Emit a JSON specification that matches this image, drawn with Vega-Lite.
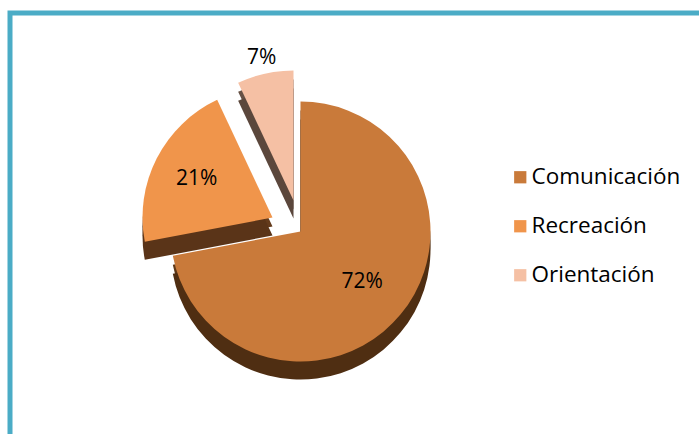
{
  "$schema": "https://vega.github.io/schema/vega-lite/v6.json",
  "width": 697,
  "height": 429,
  "autosize": {"type": "none"},
  "padding": {"left": 10, "top": 13, "right": -8, "bottom": -8},
  "background": "white",
  "view": {"stroke": "#4BACC6", "strokeWidth": 5, "fill": "white"},
  "config": {
    "view": {"stroke": "#4BACC6", "strokeWidth": 5},
    "font": "Open Sans"
  },
  "data": {
    "values": [
      {"cat": "Comunicación", "pct": 72, "label": "72%", "orden": 1},
      {"cat": "Recreación", "pct": 21, "label": "21%", "orden": 2},
      {"cat": "Orientación", "pct": 7, "label": "7%", "orden": 3}
    ]
  },
  "encoding": {
    "theta": {"field": "pct", "type": "quantitative", "stack": true},
    "order": {"field": "orden", "type": "quantitative"}
  },
  "layer": [
    {
      "mark": {"type": "arc", "radius": 130, "xOffset": -58, "yOffset": 13, "fill": "#5e3817"},
      "encoding": {"opacity": {"condition": {"test": "datum.cat === 'Comunicación'", "value": 1}, "value": 0}}
    },
    {
      "mark": {"type": "arc", "radius": 130, "xOffset": -58, "yOffset": 22, "fill": "#4f2e12"},
      "encoding": {"opacity": {"condition": {"test": "datum.cat === 'Comunicación'", "value": 1}, "value": 0}}
    },
    {
      "mark": {"type": "arc", "radius": 130, "xOffset": -86, "yOffset": -1, "fill": "#643b1c"},
      "encoding": {"opacity": {"condition": {"test": "datum.cat === 'Recreación'", "value": 1}, "value": 0}}
    },
    {
      "mark": {"type": "arc", "radius": 130, "xOffset": -86, "yOffset": 8, "fill": "#5a3418"},
      "encoding": {"opacity": {"condition": {"test": "datum.cat === 'Recreación'", "value": 1}, "value": 0}}
    },
    {
      "mark": {"type": "arc", "radius": 130, "xOffset": -65, "yOffset": -18, "fill": "#665145"},
      "encoding": {"opacity": {"condition": {"test": "datum.cat === 'Orientación'", "value": 1}, "value": 0}}
    },
    {
      "mark": {"type": "arc", "radius": 130, "xOffset": -65, "yOffset": -9, "fill": "#5b473c"},
      "encoding": {"opacity": {"condition": {"test": "datum.cat === 'Orientación'", "value": 1}, "value": 0}}
    },
    {
      "mark": {"type": "arc", "radius": 130, "xOffset": -58, "yOffset": 4},
      "encoding": {
        "color": {
          "field": "cat",
          "type": "nominal",
          "sort": ["Comunicación", "Recreación", "Orientación"],
          "scale": {"domain": ["Comunicación", "Recreación", "Orientación"], "range": ["#c97a3a", "#f0954b", "#f5c0a4"]},
          "legend": {
            "title": null,
            "orient": "none",
            "legendX": 499,
            "legendY": 153,
            "symbolType": "square",
            "symbolSize": 150,
            "symbolStrokeWidth": 0,
            "labelFontSize": 22.5,
            "labelColor": "#000000",
            "labelFont": "Open Sans",
            "rowPadding": 26,
            "labelOffset": 0
          }
        },
        "opacity": {"condition": {"test": "datum.cat === 'Comunicación'", "value": 1}, "value": 0}
      }
    },
    {
      "mark": {"type": "arc", "radius": 130, "xOffset": -86, "yOffset": -10},
      "encoding": {
        "color": {"field": "cat", "type": "nominal", "sort": ["Comunicación", "Recreación", "Orientación"]},
        "opacity": {"condition": {"test": "datum.cat === 'Recreación'", "value": 1}, "value": 0}
      }
    },
    {
      "mark": {"type": "arc", "radius": 130, "xOffset": -65, "yOffset": -27},
      "encoding": {
        "color": {"field": "cat", "type": "nominal", "sort": ["Comunicación", "Recreación", "Orientación"]},
        "opacity": {"condition": {"test": "datum.cat === 'Orientación'", "value": 1}, "value": 0}
      }
    },
    {
      "mark": {"type": "text", "radius": 80, "xOffset": -58, "yOffset": 4, "fontSize": 21, "color": "#000000"},
      "encoding": {
        "text": {"field": "label"},
        "opacity": {"condition": {"test": "datum.cat === 'Comunicación'", "value": 1}, "value": 0}
      }
    },
    {
      "mark": {"type": "text", "radius": 85, "xOffset": -86, "yOffset": -10, "fontSize": 21, "color": "#000000"},
      "encoding": {
        "text": {"field": "label"},
        "opacity": {"condition": {"test": "datum.cat === 'Recreación'", "value": 1}, "value": 0}
      }
    },
    {
      "mark": {"type": "text", "radius": 146, "xOffset": -65, "yOffset": -27, "fontSize": 21, "color": "#000000"},
      "encoding": {
        "text": {"field": "label"},
        "opacity": {"condition": {"test": "datum.cat === 'Orientación'", "value": 1}, "value": 0}
      }
    }
  ]
}
